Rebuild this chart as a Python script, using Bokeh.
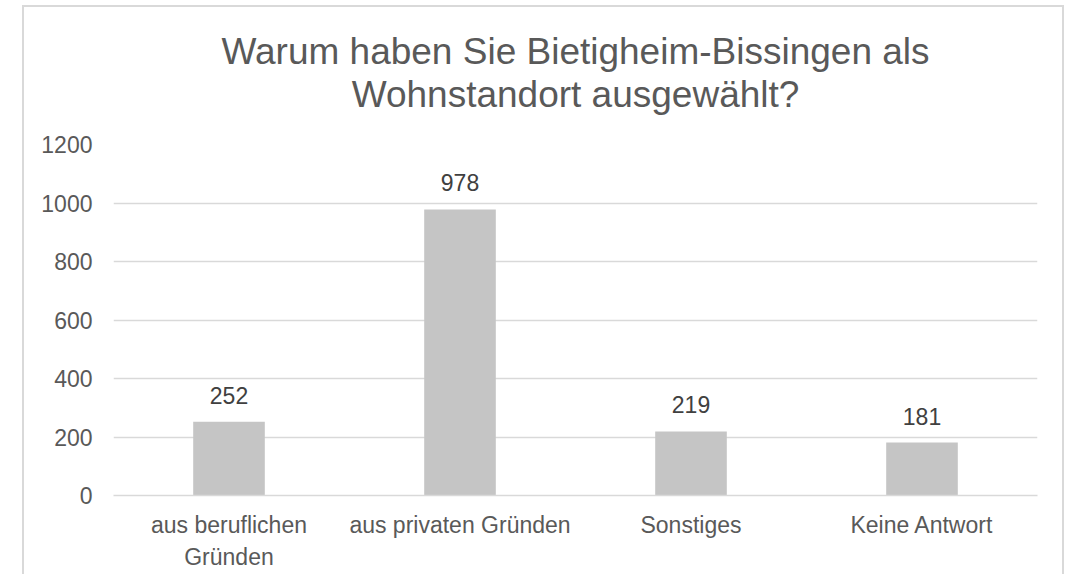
from bokeh.plotting import figure
from bokeh.models import ColumnDataSource, FactorRange, FixedTicker, LabelSet, Range1d, Title
from bokeh.core.properties import value
from bokeh.embed import file_html
from bokeh.resources import INLINE

categories = ["aus beruflichen\nGründen", "aus privaten Gründen", "Sonstiges", "Keine Antwort"]
values = [252, 978, 219, 181]
y_ticks = [0, 200, 400, 600, 800, 1000, 1200]
title_line1 = "Warum haben Sie Bietigheim-Bissingen als"
title_line2 = "Wohnstandort ausgewählt?"

FONT = "Liberation Sans"
TXT = "#595959"

src = ColumnDataSource(dict(cat=categories, val=values, lbl=[str(v) for v in values]))

p = figure(width=1042, height=569, output_backend="svg", toolbar_location=None,
           x_range=FactorRange(*categories, range_padding=0),
           y_range=Range1d(0, 1200),
           min_border_left=89, min_border_right=29, min_border_top=137, min_border_bottom=81)
p.margin = (5, 0, 0, 22)
p.styles = {"border-top": "2px solid #d9d9d9", "border-left": "2px solid #d9d9d9",
            "border-right": "2px solid #d9d9d9"}

p.vbar(x="cat", top="val", width=0.31, source=src, fill_color="#c5c5c5", line_color=None)

p.add_layout(LabelSet(x="cat", y="val", text="lbl", source=src, y_offset=18,
                      text_align="center", text_baseline="alphabetic",
                      text_font=value(FONT), text_font_size=value("23px"),
                      text_color=value("#404040")))

p.title.text = title_line1
p.title.align = "center"
p.title.text_font = FONT
p.title.text_font_size = "37px"
p.title.text_font_style = "normal"
p.title.text_color = TXT
p.title.standoff = 0
# spacer between the title block and the plot area (nearest the frame)
p.add_layout(Title(text=" ", text_font_size="1px", standoff=27), "above")
p.add_layout(Title(text=title_line2, align="center", text_font=FONT,
                   text_font_size="37px", text_font_style="normal", text_color=TXT,
                   standoff=0), "above")

p.outline_line_color = None
p.xgrid.grid_line_color = None
p.ygrid.grid_line_color = "#d9d9d9"
p.ygrid.grid_line_width = 1.5
p.yaxis.ticker = FixedTicker(ticks=y_ticks)

p.yaxis.axis_line_color = None
p.yaxis.major_tick_line_color = None
p.yaxis.minor_tick_line_color = None
p.yaxis.major_tick_out = 0
p.yaxis.major_label_standoff = 21
p.yaxis.major_label_text_font = FONT
p.yaxis.major_label_text_font_size = "23px"
p.yaxis.major_label_text_color = TXT

p.xaxis.axis_line_color = "#d9d9d9"
p.xaxis.axis_line_width = 1.5
p.xaxis.major_tick_line_color = None
p.xaxis.major_tick_out = 0
p.xaxis.major_label_standoff = 16
p.xaxis.major_label_text_font = FONT
p.xaxis.major_label_text_font_size = "23px"
p.xaxis.major_label_text_color = TXT
p.xaxis.major_label_text_line_height = 1.25

open("out.html", "w").write(file_html(p, INLINE))
